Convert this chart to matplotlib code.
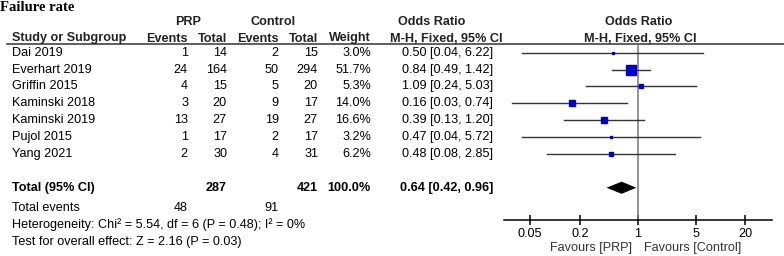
import numpy as np
import matplotlib.pyplot as plt

# study data
studies = ['Dai 2019', 'Everhart 2019', 'Griffin 2015', 'Kaminski 2018',
           'Kaminski 2019', 'Pujol 2015', 'Yang 2021']
prp_events = [1, 24, 4, 3, 13, 1, 2]
prp_total = [14, 164, 15, 20, 27, 17, 30]
ctl_events = [2, 50, 5, 9, 19, 2, 4]
ctl_total = [15, 294, 20, 17, 27, 17, 31]
weights = [3.0, 51.7, 5.3, 14.0, 16.6, 3.2, 6.2]
odds = [0.50, 0.84, 1.09, 0.16, 0.39, 0.47, 0.48]
ci_low = [0.04, 0.49, 0.24, 0.03, 0.13, 0.04, 0.08]
ci_high = [6.22, 1.42, 5.03, 0.74, 1.20, 5.72, 2.85]

total_or, total_low, total_high = 0.64, 0.42, 0.96
total_prp, total_ctl = 287, 421
events_prp, events_ctl = 48, 91
heterogeneity = 'Heterogeneity: Chi² = 5.54, df = 6 (P = 0.48); I² = 0%'
overall = 'Test for overall effect: Z = 2.16 (P = 0.03)'
ticks = [0.05, 0.2, 1, 5, 20]
tick_labels = ['0.05', '0.2', '1', '5', '20']

plt.rcParams['font.family'] = ['Liberation Sans', 'DejaVu Sans']
fs = 9.1

fig = plt.figure(figsize=(7.84, 2.56), dpi=100)

# background axes in pixel units for the table part
tab = fig.add_axes([0, 0, 1, 1])
tab.set_xlim(0, 784)
tab.set_ylim(256, 0)
tab.axis('off')

y0, dy = 52.7, 16.88
n = len(studies)
y_total = y0 + (n + 1) * dy

tab.text(0, 7.5, 'Failure rate', fontsize=10.5, fontweight='bold',
         family='Liberation Serif', va='center', ha='left')

# headers
hc = '#222222'
tab.text(188, 22, 'PRP', fontsize=fs, fontweight='bold', ha='center', va='center', color=hc)
tab.text(273, 22, 'Control', fontsize=fs, fontweight='bold', ha='center', va='center', color=hc)
tab.text(398, 22, 'Odds Ratio', fontsize=fs, fontweight='bold', ha='left', va='center', color=hc)
tab.text(639, 22, 'Odds Ratio', fontsize=fs, fontweight='bold', ha='center', va='center', color=hc)
hy = 38.5
tab.text(12, hy, 'Study or Subgroup', fontsize=fs, fontweight='bold', ha='left', va='center', color=hc)
for xr, lab in [(188, 'Events'), (227, 'Total'), (279, 'Events'), (318, 'Total'), (371, 'Weight')]:
    tab.text(xr, hy, lab, fontsize=fs, fontweight='bold', ha='right', va='center', color=hc)
tab.text(390, hy, 'M-H, Fixed, 95% CI', fontsize=fs, fontweight='bold', ha='left', va='center', color=hc)
tab.text(640, hy, 'M-H, Fixed, 95% CI', fontsize=fs, fontweight='bold', ha='center', va='center', color=hc)
tab.plot([7, 784], [43.5, 43.5], color='#333333', lw=1.1)

# study rows
for i in range(n):
    y = y0 + i * dy
    tab.text(12, y, studies[i], fontsize=fs, va='center', ha='left')
    tab.text(188, y, str(prp_events[i]), fontsize=fs, va='center', ha='right')
    tab.text(227, y, str(prp_total[i]), fontsize=fs, va='center', ha='right')
    tab.text(279, y, str(ctl_events[i]), fontsize=fs, va='center', ha='right')
    tab.text(318, y, str(ctl_total[i]), fontsize=fs, va='center', ha='right')
    tab.text(371, y, f'{weights[i]:.1f}%', fontsize=fs, va='center', ha='right')
    tab.text(402, y, f'{odds[i]:.2f} [{ci_low[i]:.2f}, {ci_high[i]:.2f}]',
             fontsize=fs, va='center', ha='left')

# total row
tab.text(12, y_total, 'Total (95% CI)', fontsize=fs, fontweight='bold', va='center', ha='left')
tab.text(227, y_total, str(total_prp), fontsize=fs, fontweight='bold', va='center', ha='right')
tab.text(318, y_total, str(total_ctl), fontsize=fs, fontweight='bold', va='center', ha='right')
tab.text(371, y_total, '100.0%', fontsize=fs, fontweight='bold', va='center', ha='right')
tab.text(400, y_total, f'{total_or:.2f} [{total_low:.2f}, {total_high:.2f}]',
         fontsize=fs, fontweight='bold', va='center', ha='left')
tab.text(12, 208, 'Total events', fontsize=fs, va='center', ha='left')
tab.text(188, 208, str(events_prp), fontsize=fs, va='center', ha='right')
tab.text(279, 208, str(events_ctl), fontsize=fs, va='center', ha='right')
tab.text(12, 225, heterogeneity, fontsize=fs, va='center', ha='left')
tab.text(12, 241.7, overall, fontsize=fs, va='center', ha='left')

# forest plot axes
ax = fig.add_axes([504 / 784, 36 / 256, 268 / 784, 176.5 / 256])
ax.set_xscale('log')
ax.set_xlim(0.0242, 42)
row_top = (43.5 - y0) / dy
row_bot = (220 - y0) / dy
ax.set_ylim(row_bot, row_top)
ax.patch.set_alpha(0)
for s in ['top', 'left', 'right']:
    ax.spines[s].set_visible(False)
ax.spines['bottom'].set_linewidth(1.1)
ax.set_yticks([])
ax.set_xticks(ticks)
ax.set_xticklabels(tick_labels, fontsize=fs)
ax.minorticks_off()
ax.tick_params(axis='x', which='major', direction='inout', length=7, width=1.1, pad=2.5)

ax.axvline(1, color='#777777', lw=1.1)

rows = np.arange(n)
for i in rows:
    ax.plot([ci_low[i], ci_high[i]], [i, i], color='#333333', lw=1.0)
    ax.plot(odds[i], i, marker='s', color='#0000c8', mec='#0000c8',
            markersize=1.0 * np.sqrt(weights[i]), lw=0)

# diamond for pooled estimate
ti = n + 1
ax.fill([total_low, total_or, total_high, total_or],
        [ti, ti - 0.36, ti, ti + 0.36], color='black', lw=0)

tab.text(632, 247.5, 'Favours [PRP]', fontsize=fs, ha='right', va='center', color='#333333')
tab.text(644, 247.5, 'Favours [Control]', fontsize=fs, ha='left', va='center', color='#333333')

fig.savefig('out.png', dpi=100)
